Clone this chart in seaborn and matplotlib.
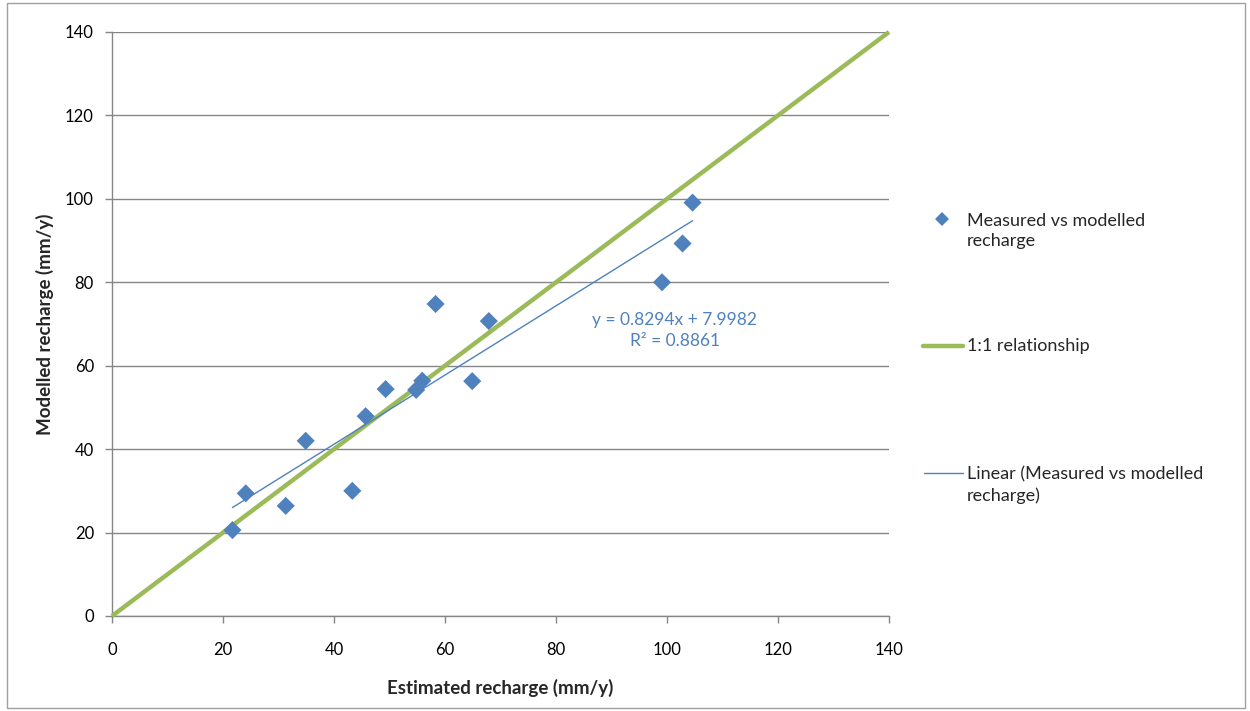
import numpy as np
import pandas as pd
import seaborn as sns
import matplotlib
matplotlib.use("Agg")
import matplotlib.pyplot as plt
from matplotlib.lines import Line2D
from matplotlib.patches import Rectangle

# ---- data ----
estimated = [21.7, 24.1, 31.3, 34.9, 43.3, 45.7, 49.3, 54.8, 55.9, 58.3, 64.9, 67.9, 99.1, 102.8, 104.6]
modelled = [20.6, 29.4, 26.4, 42.0, 30.0, 47.9, 54.4, 54.2, 56.4, 74.8, 56.3, 70.7, 80.0, 89.3, 99.1]
one_to_one = [0, 140]
trend_slope = 0.8294
trend_intercept = 7.9982
trend_r2 = 0.8861
x_ticks = [0, 20, 40, 60, 80, 100, 120, 140]
y_ticks = [0, 20, 40, 60, 80, 100, 120, 140]

sns.set_theme(style="white")
plt.rcParams['font.family'] = ['Lato', 'DejaVu Sans']

BLUE = '#4F81BD'
GREEN = '#9BBB59'
GRID = '#868686'

W, H = 1250, 711
fig = plt.figure(figsize=(12.5, 7.11), dpi=100)
ax = fig.add_axes([112 / W, 1 - 616 / H, (889 - 112) / W, (616 - 32) / H])

df = pd.DataFrame({'Estimated': estimated, 'Modelled': modelled})

# 1:1 line
sns.lineplot(x=one_to_one, y=one_to_one, ax=ax, color=GREEN, linewidth=3.2,
             solid_capstyle='butt', zorder=3, clip_on=False)

# trendline
tx = np.array([min(estimated), max(estimated)])
ty = trend_slope * tx + trend_intercept
sns.lineplot(x=tx, y=ty, ax=ax, color=BLUE, linewidth=1.0, zorder=4)

# points
sns.scatterplot(data=df, x='Estimated', y='Modelled', ax=ax, marker='D', s=85,
                color=BLUE, edgecolor='none', linewidth=0, zorder=5)

ax.set_xlim(0, 140)
ax.set_ylim(0, 140)
ax.set_xticks(x_ticks)
ax.set_yticks(y_ticks)
ax.set_xticklabels([str(v) for v in x_ticks])
ax.set_yticklabels([str(v) for v in y_ticks])

ax.yaxis.grid(True, color=GRID, linewidth=1.0)
ax.xaxis.grid(False)
ax.set_axisbelow(True)
for s in ['top', 'right']:
    ax.spines[s].set_visible(False)
for s in ['left', 'bottom']:
    ax.spines[s].set_color(GRID)
    ax.spines[s].set_linewidth(1.0)

ax.tick_params(axis='both', which='major', direction='out', length=5, width=1,
               color=GRID, labelsize=12, labelcolor='black', bottom=True, left=True)
ax.tick_params(axis='y', pad=8)
ax.tick_params(axis='x', pad=14)

ax.set_xlabel('Estimated recharge (mm/y)', fontsize=13.5, fontweight='bold', labelpad=15)
ax.set_ylabel('Modelled recharge (mm/y)', fontsize=13.5, fontweight='bold', labelpad=8)

ax.text(101.4, 68.4, f'y = {trend_slope}x + {trend_intercept}\nR\u00b2 = {trend_r2}',
        color=BLUE, fontsize=12.5, ha='center', va='center', linespacing=1.35, zorder=6)

# ---- manual legend (figure pixel coords) ----
def fx(px):
    return px / W

def fy(py):
    return 1 - py / H

fig.add_artist(Line2D([fx(942)], [fy(219)], marker='D', markersize=7.5, color=BLUE,
                      markeredgewidth=0, linestyle='none', transform=fig.transFigure))
fig.text(fx(967), fy(231), 'Measured vs modelled\nrecharge', fontsize=13,
         ha='left', va='center', linespacing=1.35)

fig.add_artist(Line2D([fx(923), fx(963)], [fy(346), fy(346)], color=GREEN, linewidth=3.2,
                      transform=fig.transFigure))
fig.text(fx(967), fy(346), '1:1 relationship', fontsize=13, ha='left', va='center')

fig.add_artist(Line2D([fx(924), fx(963)], [fy(473), fy(473)], color=BLUE, linewidth=1.0,
                      transform=fig.transFigure))
fig.text(fx(967), fy(485), 'Linear (Measured vs modelled\nrecharge)', fontsize=13,
         ha='left', va='center', linespacing=1.35)

# chart border
fig.add_artist(Rectangle((fx(7), fy(708)), fx(1245) - fx(7), fy(3) - fy(708),
                         transform=fig.transFigure, fill=False, edgecolor='#A0A0A0',
                         linewidth=1.0))

fig.savefig('out.png', dpi=100)
